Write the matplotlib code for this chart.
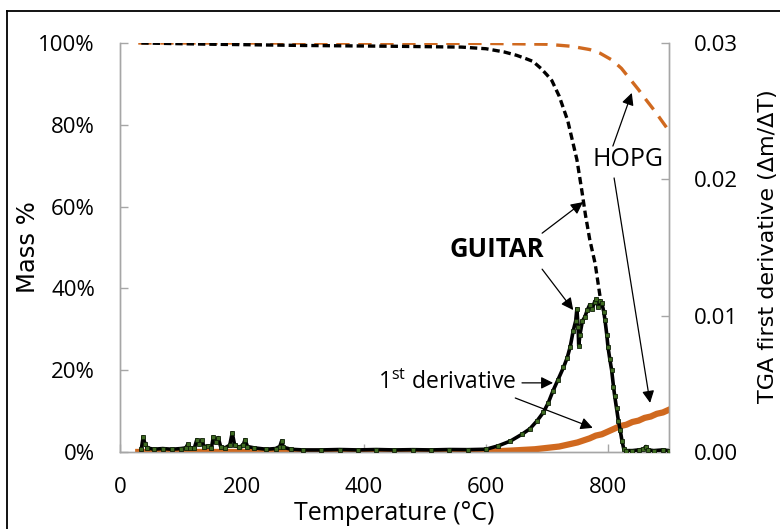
import matplotlib
matplotlib.use('Agg')
import matplotlib.pyplot as plt
from matplotlib.ticker import FuncFormatter

plt.rcParams['font.family'] = ['Open Sans', 'DejaVu Sans']
plt.rcParams['mathtext.fontset'] = 'custom'
plt.rcParams['mathtext.rm'] = 'Open Sans'

# TGA mass curves (temperature in C, mass in %)
temp_guitar_mass = [35, 150, 300, 450, 560, 600, 630, 650, 665, 677, 690, 700, 708, 720,
                    734, 749, 757, 763, 770, 779, 787]
mass_guitar = [100, 99.7, 99.4, 99.2, 99.0, 98.6, 97.8, 97.0, 96.2, 95.5, 93.8, 92.2, 90.8, 87,
               81, 71.5, 64, 58, 52, 46, 38]

temp_hopg_mass = [30, 300, 600, 700, 740, 770, 787, 807, 822, 836, 850, 863, 876, 888, 900]
mass_hopg = [100, 100, 99.9, 99.7, 99.2, 98.4, 97.5, 95.8, 93.8, 91.2, 88.6, 86, 83.5, 81, 78.5]

# first derivative, in units of 1e-3 (dm/dT)
temp_guitar_der = [35, 38, 41, 45, 55, 70, 85, 100, 108, 111, 115, 122, 126, 130, 134, 138,
                   145, 150, 153, 157, 161, 165, 172, 180, 184, 188, 195, 202, 205, 209, 220,
                   240, 255, 262, 265, 268, 280, 300, 330, 360, 390, 420, 450, 480, 510, 540,
                   570, 600, 620, 640, 659, 672, 684, 694, 702, 710, 718, 727, 733, 738, 743,
                   747, 749, 751, 752, 754, 758, 762, 766, 770, 774, 778, 781, 784, 787, 790,
                   793, 795, 798, 800, 803, 806, 809, 811, 814, 817, 820, 823, 826, 830, 840,
                   850, 858, 862, 866, 875, 890, 900]
der_guitar = [0.2, 1.1, 0.6, 0.3, 0.2, 0.25, 0.2, 0.25, 0.3, 0.55, 0.3, 0.3, 0.9, 0.6, 0.85, 0.4,
              0.45, 0.3, 1.1, 0.7, 1.05, 0.4, 0.3, 0.5, 1.4, 0.5, 0.35, 0.5, 0.9, 0.4, 0.3,
              0.2, 0.25, 0.4, 0.8, 0.35, 0.2, 0.15, 0.15, 0.18, 0.15, 0.18, 0.15, 0.17, 0.15, 0.18,
              0.17, 0.2, 0.45, 0.8, 1.3, 1.7, 2.3, 2.9, 3.6, 4.5, 5.3, 6.2, 6.9, 7.7, 8.9,
              9.6, 10.5, 9.2, 7.8, 8.6, 9.6, 9.9, 10.4, 10.8, 10.5, 11.0, 11.2, 10.6, 11.1, 10.9,
              10.3, 9.7, 8.6, 7.7, 6.8, 6.0, 4.8, 4.1, 3.2, 2.3, 1.6, 0.8, 0.2, 0.1, 0.1,
              0.15, 0.2, 0.4, 0.15, 0.1, 0.15, 0.1]

temp_hopg_der = [30, 100, 200, 300, 400, 500, 600, 640, 680, 720, 750, 770, 780, 790, 800,
                 810, 820, 830, 840, 850, 860, 870, 880, 890, 900]
der_hopg = [0, 0, 0, 0, 0, 0, 0.02, 0.1, 0.2, 0.4, 0.7, 1.0, 1.2, 1.3, 1.5,
            1.7, 1.9, 2.0, 2.2, 2.3, 2.5, 2.6, 2.8, 2.9, 3.1]

orange = '#d0691f'
grey = '#a6a6a6'

fig = plt.figure(figsize=(7.8, 5.29), dpi=100)
ax = fig.add_axes([0.1538, 0.1456, 0.7039, 0.7731])
ax2 = ax.twinx()

ax.plot(temp_hopg_mass, mass_hopg, color=orange, lw=2.4, dashes=(4, 2.6), zorder=3)
ax.plot(temp_guitar_mass, mass_guitar, color='black', lw=2.4, dashes=(2.2, 1.2), zorder=4)

ax2.plot(temp_hopg_der, [v * 1e-3 for v in der_hopg], color=orange, lw=4.5, zorder=2)
ax2.plot(temp_guitar_der, [v * 1e-3 for v in der_guitar], color='black', lw=2.6,
         marker='s', ms=3.4, mfc='#3f6b22', mec='#102008', mew=0.6, zorder=3)

ax.set_xlim(0, 900)
ax.set_ylim(0, 100)
ax2.set_ylim(0, 0.03)
ax.set_xticks([0, 200, 400, 600, 800])
ax.set_yticks([0, 20, 40, 60, 80, 100])
ax2.set_yticks([0, 0.01, 0.02, 0.03])
ax.yaxis.set_major_formatter(FuncFormatter(lambda v, p: f'{v:.0f}%'))
ax2.yaxis.set_major_formatter(FuncFormatter(lambda v, p: f'{v:.2f}'))

for a in (ax, ax2):
    for s in a.spines.values():
        s.set_color(grey)
        s.set_linewidth(1.0)
    a.spines['top'].set_visible(False)
    a.tick_params(direction='in', length=6, width=1, color=grey, labelsize=16, pad=18)

fig.text(0.505, 0.030, 'Temperature (°C)', ha='center', va='center', fontsize=18)
fig.text(0.036, 0.533, 'Mass %', rotation=90, ha='center', va='center',
         fontsize=17.5, family='DejaVu Sans')
fig.text(0.985, 0.534, 'TGA first derivative (Δm/ΔT)', rotation=90, ha='center',
         va='center', fontsize=16, family='DejaVu Sans')

arrow = dict(arrowstyle='-|>', mutation_scale=18, lw=0.9, color='black',
             shrinkA=0, shrinkB=0)
ax.text(618, 49.4, 'GUITAR', fontsize=18.5, fontweight='bold', ha='center', va='center')
ax.annotate('', xy=(759, 61.1), xytext=(692, 53.5), arrowprops=arrow)
ax.annotate('', xy=(743, 34.7), xytext=(692, 44.7), arrowprops=arrow)

ax.text(650, 16.9, '1$^{\\mathrm{st}}$ derivative', fontsize=16.5, ha='right', va='center')
ax.annotate('', xy=(710, 16.9), xytext=(659, 16.9), arrowprops=arrow)
ax.annotate('', xy=(775, 5.9), xytext=(648, 13.2), arrowprops=arrow)

ax.text(833, 71.6, 'HOPG', fontsize=18, ha='center', va='center')
ax.annotate('', xy=(839, 87.8), xytext=(808, 74.8), arrowprops=arrow)
ax.annotate('', xy=(869, 12), xytext=(810, 67), arrowprops=arrow)

# outer frame
fig.add_artist(plt.Line2D([0.009, 1.0], [0.979, 0.979], color='black', lw=1.3,
                          transform=fig.transFigure))
fig.add_artist(plt.Line2D([0.009, 0.009], [0.0, 0.979], color='black', lw=1.3,
                          transform=fig.transFigure))

fig.savefig('out.png', dpi=100)
